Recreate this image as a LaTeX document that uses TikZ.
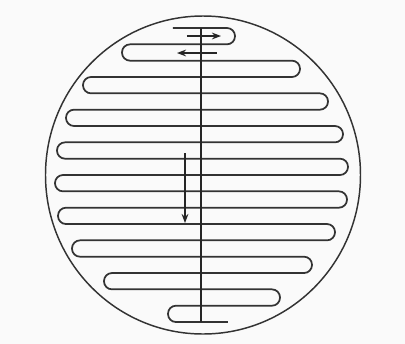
\documentclass[tikz,border=0pt]{standalone}
\usepackage{tikz}
\usetikzlibrary{arrows.meta}
\tikzset{
  rim/.style   = {line width=1.1pt, black!80},
  coil/.style  = {line width=1.3pt, black!80, rounded corners=6pt},
  shaft/.style = {line width=1.9pt, black!85},
  flow/.style  = {-{Stealth[length=2.4mm,width=1.8mm]}, line width=0.9pt, black!85},
}

\begin{document}
\begin{tikzpicture}[x=0.75pt,y=-0.75pt]
  \fill[black!2] (0,0) rectangle (405,344);
  \useasboundingbox (0,0) rectangle (405,344);
  % outer rim
  \draw[rim] (203,175) ellipse [x radius=157.5, y radius=159];
  % the serpentine, right turn / left turn per pass
  \draw[coil] (173,28)
    \foreach \xr/\xl [count=\i from 0] in
      {235/122, 300/83, 328/66, 343/57, 348/55, 347/58, 335/72, 312/104, 280/168}
    { -- (\xr,{28+32.67*\i}) -- (\xr,{44.33+32.67*\i})
      -- (\xl,{44.33+32.67*\i}) -- (\xl,{60.67+32.67*\i}) }
    -- (228,322);
  % centre line
  \draw[shaft] (201,28) -- (201,322);
  % directions
  \draw[flow] (187,36) -- (221,36);
  \draw[flow] (217,53) -- (177,53);
  \draw[flow] (185,153) -- (185,223);
\end{tikzpicture}
\end{document}
